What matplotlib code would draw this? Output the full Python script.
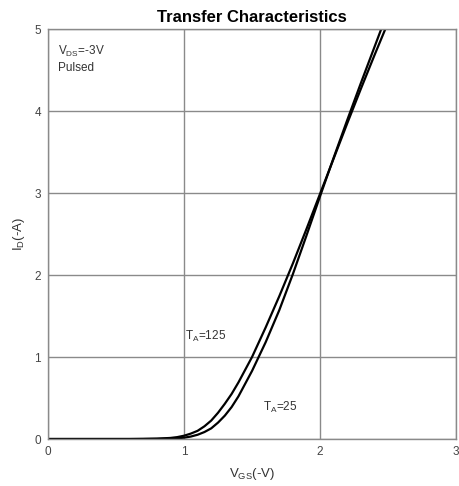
import matplotlib
matplotlib.use("Agg")
import matplotlib.pyplot as plt

plt.rcParams['font.family'] = ['Liberation Sans', 'DejaVu Sans']
plt.rcParams['mathtext.default'] = 'regular'

# values
vgs_125 = [0.0, 0.6, 0.8, 0.9, 0.95, 1.0, 1.05, 1.1, 1.15, 1.2, 1.25, 1.3, 1.35, 1.4, 1.5, 1.6, 1.7, 1.8, 1.9, 2.0, 2.1, 2.2, 2.3, 2.4, 2.48]
id_125 = [0.0, 0.0, 0.004, 0.013, 0.023, 0.04, 0.066, 0.1, 0.155, 0.225, 0.32, 0.43, 0.55, 0.69, 1.0, 1.36, 1.74, 2.14, 2.56, 2.99, 3.42, 3.85, 4.27, 4.68, 5.0]

vgs_25 = [0.0, 0.7, 0.9, 0.95, 1.0, 1.05, 1.1, 1.15, 1.2, 1.25, 1.3, 1.35, 1.4, 1.5, 1.6, 1.7, 1.8, 1.9, 2.0, 2.1, 2.2, 2.3, 2.4, 2.45]
id_25 = [0.0, 0.0, 0.005, 0.009, 0.016, 0.03, 0.052, 0.085, 0.13, 0.2, 0.285, 0.39, 0.52, 0.83, 1.18, 1.57, 2.01, 2.48, 2.96, 3.43, 3.89, 4.34, 4.78, 5.0]

x_ticks = [0, 1, 2, 3]
y_ticks = [0, 1, 2, 3, 4, 5]

fig = plt.figure(figsize=(4.59, 4.86), dpi=100)
ax = fig.add_axes([0.1046, 0.0967, 0.889, 0.8436])

ax.plot(vgs_125, id_125, color='black', lw=1.6)
ax.plot(vgs_25, id_25, color='black', lw=1.6)

ax.set_xlim(0, 3)
ax.set_ylim(0, 5)
ax.set_xticks(x_ticks)
ax.set_yticks(y_ticks)
ax.tick_params(length=0, labelsize=8.5, colors='#444444', pad=5)
ax.grid(True, color='#8a8a8a', lw=1)
for s in ax.spines.values():
    s.set_color('#8a8a8a')
    s.set_linewidth(1)

ax.set_title('Transfer Characteristics', fontsize=12, fontweight='bold', pad=5)
ax.set_xlabel('V$_{GS}$(-V)', fontsize=9.5, color='#333333', labelpad=6)
ax.set_ylabel('I$_D$(-A)', fontsize=9.5, color='#333333', labelpad=5)

ax.text(0.07, 4.82, 'V$_{DS}$=-3V', fontsize=8.5, color='#333333', va='top')
ax.text(0.07, 4.6, 'Pulsed', fontsize=8.5, color='#333333', va='top')
ax.text(1.01, 1.25, 'T$_A$=125', fontsize=8.5, color='#333333', va='center')
ax.text(1.58, 0.38, 'T$_A$=25', fontsize=8.5, color='#333333', va='center')

fig.savefig('out.png', dpi=100)
